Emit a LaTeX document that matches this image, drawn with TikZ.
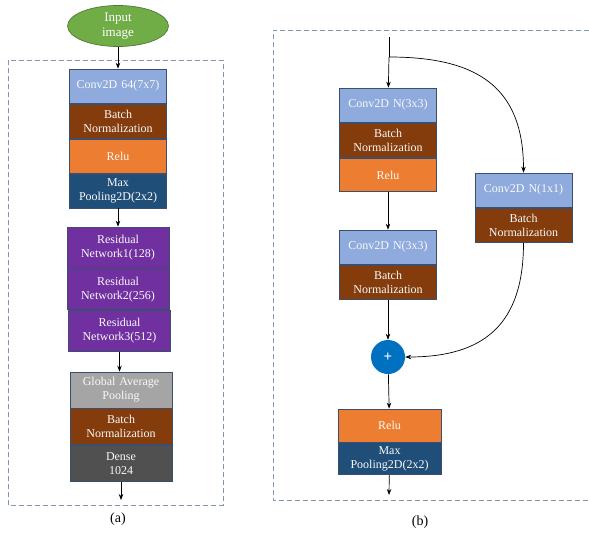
\documentclass[tikz,border=0pt]{standalone}
\usepackage{fontspec}
\setmainfont{Liberation Serif}
\usetikzlibrary{shapes.geometric, arrows, arrows.meta}
\usetikzlibrary{positioning}
\definecolor{convblue}{HTML}{8FAADC}
\definecolor{bnbrown}{HTML}{843C0C}
\definecolor{reluorange}{HTML}{ED7D31}
\definecolor{poolblue}{HTML}{1F4E79}
\definecolor{respurple}{HTML}{7030A0}
\definecolor{gapgray}{HTML}{A5A5A5}
\definecolor{densegray}{HTML}{505050}
\definecolor{addblue}{HTML}{0070C0}
\definecolor{inputgreen}{HTML}{70AD47}
\definecolor{edgeblue}{HTML}{3B4E6E}
\definecolor{framegray}{HTML}{8497B0}
\tikzstyle{layer} = [rectangle, minimum width=97pt, minimum height=34pt, inner xsep=2pt, text centered, text width=93pt, draw=edgeblue, line width=0.7pt, text=white!95!gray, font=\fontsize{12}{14}\selectfont]
\tikzstyle{widelayer} = [layer, text width=98pt, minimum height=41pt]
\tikzstyle{inputimg} = [ellipse, minimum width=101pt, minimum height=41pt, inner sep=1pt, text centered, text width=60pt, draw=inputgreen!70!black, line width=0.7pt, fill=inputgreen, text=white, font=\fontsize{13}{15}\selectfont]
\tikzstyle{addop} = [circle, minimum size=34pt, inner sep=0pt, fill=addblue, text=white, font=\bfseries\fontsize{15}{15}\selectfont]
\tikzstyle{frame} = [draw=framegray, line width=0.8pt, dash pattern=on 5pt off 3pt]
\tikzstyle{arrow} = [line width=0.7pt,->,>={Stealth[length=6pt, width=4.5pt]}]

\begin{document}
\begin{tikzpicture}[x=1pt, y=-1pt, node distance=0pt]
 \useasboundingbox (0,0) rectangle (589,533);

 % (a) whole network
 \draw [frame] (8,60) rectangle (223,505);
 \node (input) [inputimg] at (118,26) {Input\\image};
 \node (conva) [layer, fill=convblue] at (118,86) {Conv2D 64(7x7)};
 \node (bna) [layer, fill=bnbrown, below=1pt of conva] {Batch\\Normalization};
 \node (relua) [layer, fill=reluorange, below=of bna] {Relu};
 \node (mpa) [layer, fill=poolblue, below=of relua] {Max\\Pooling2D(2x2)};
 \node (res1) [widelayer, fill=respurple] at (118,247.5) {Residual\\Network1(128)};
 \node (res2) [widelayer, fill=respurple, below=of res1] {Residual\\Network2(256)};
 \node (res3) [widelayer, fill=respurple, below=of res2, xshift=1.5pt] {Residual\\Network3(512)};
 \node (gap) [widelayer, fill=gapgray, minimum height=36pt] at (121,390) {Global Average\\Pooling};
 \node (bnc) [widelayer, fill=bnbrown, minimum height=36pt, below=of gap] {Batch\\Normalization};
 \node (dense) [widelayer, fill=densegray, minimum height=36pt, below=of bnc] {Dense\\1024};
 \coordinate (outa) at (119,500);
 \node (capa) at (118,519) {\fontsize{14}{16}\selectfont (a)};

 \draw [arrow] (input) -- (conva);
 \draw [arrow] (mpa) -- (res1);
 \draw [arrow] (res3.south) -- (res3.south |- gap.north);
 \draw [arrow] (dense.south) -- (dense.south |- outa);

 % (b) residual block
 \draw [frame] (589,30) -- (273,30) -- (273,500) -- (589,500);
 \coordinate (inb) at (389,37);
 \coordinate (split) at (389,57);
 \node (convb) [layer, fill=convblue] at (388,105) {Conv2D N(3x3)};
 \node (bnb) [layer, fill=bnbrown, below=1pt of convb] {Batch\\Normalization};
 \node (relub) [layer, fill=reluorange, minimum height=33pt, below=of bnb] {Relu};
 \node (convb2) [layer, fill=convblue] at (388,247) {Conv2D N(3x3)};
 \node (bnb2) [layer, fill=bnbrown, below=1pt of convb2] {Batch\\Normalization};
 \node (conv1x1) [layer, fill=convblue] at (523.5,190) {Conv2D N(1x1)};
 \node (bn1x1) [layer, fill=bnbrown, below=1pt of conv1x1] {Batch\\Normalization};
 \node (add) [addop] at (388,357) {+};
 \node (relub2) [layer, fill=reluorange, text width=99pt, minimum height=33pt] at (389.5,425.5) {Relu};
 \node (mpb) [layer, fill=poolblue, text width=99pt, minimum height=32pt, below=of relub2] {Max\\Pooling2D(2x2)};
 \coordinate (outb) at (389,495);
 \node (capb) at (420,522) {\fontsize{14}{16}\selectfont (b)};

 \draw [line width=0.7pt] (inb) -- (split);
 \draw [arrow] (split) -- (convb);
 \draw [arrow] (split) to[out=0, in=90, looseness=1.25] (conv1x1);
 \draw [arrow] (relub) -- (convb2);
 \draw [arrow] (bnb2) -- (add);
 \draw [arrow] (bn1x1) to[out=-90, in=0, looseness=1.25] (add);
 \draw [arrow] (add) -- (relub2);
 \draw [arrow] (mpb) -- (outb);
\end{tikzpicture}
\end{document}
